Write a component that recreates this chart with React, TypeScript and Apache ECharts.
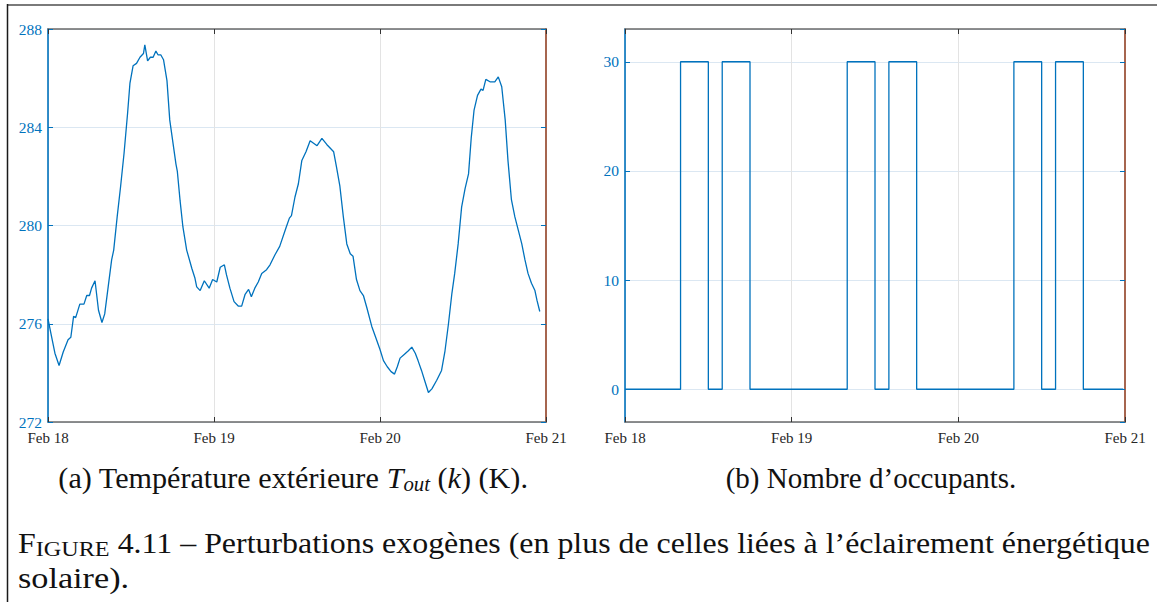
import React, { useEffect, useRef } from 'react';
import * as echarts from 'echarts';

const dayLabels = ['Feb 18', 'Feb 19', 'Feb 20', 'Feb 21'];

// Outdoor temperature (K), hours since Feb 18 00:00
const tempHours = [
  0, 0.5, 1.0, 1.6, 2.2, 2.9, 3.3, 3.7, 4.0, 4.6, 5.2, 5.6, 6.0, 6.3, 6.8, 7.3, 7.8, 8.2, 8.7, 9.2,
  9.5, 10.0, 10.5, 11.0, 11.5, 11.85, 12.3, 12.8, 13.3, 13.8, 14.0, 14.4, 14.8, 15.2, 15.6, 15.9, 16.3, 16.7, 17.2, 17.6,
  18.5, 18.7, 19.1, 19.5, 20.05, 20.8, 21.25, 21.5, 22.0, 22.6, 23.3, 23.8, 24.4, 24.9, 25.5, 25.8, 26.3, 26.9, 27.5, 28.0,
  28.5, 29.0, 29.4, 29.9, 30.4, 30.9, 31.6, 32.1, 32.8, 33.5, 34.4, 34.9, 35.2, 35.7, 36.2, 36.7, 37.3, 37.9, 38.4, 38.9,
  39.6, 40.3, 41.3, 41.7, 42.2, 42.7, 43.2, 43.7, 44.1, 44.6, 45.1, 45.6, 46.1, 46.8, 47.5, 48.0, 48.5, 49.05, 49.6, 50.1,
  50.5, 50.9, 51.5, 52.1, 52.6, 53.1, 53.5, 54.0, 54.5, 55.0, 55.5, 56.2, 56.9, 57.4, 57.9, 58.4, 58.8, 59.3, 59.8, 60.3,
  60.8, 61.2, 61.6, 62.1, 62.6, 62.9, 63.3, 63.9, 64.6, 65.1, 65.6, 66.1, 66.5, 67.0, 67.5, 68.0, 68.5, 68.96, 69.4, 69.9,
  70.4, 70.7, 71.1
];
const tempValues = [
  276.2, 275.5, 274.8, 274.3, 274.85, 275.35, 275.45, 276.3, 276.25, 276.8, 276.8, 277.15, 277.15, 277.45, 277.75, 276.55, 276.05, 276.4, 277.5, 278.6,
  279.0, 280.35, 281.6, 282.95, 284.55, 285.8, 286.5, 286.6, 286.85, 287.0, 287.35, 286.7, 286.85, 286.85, 287.1, 286.95, 286.95, 286.75, 285.9, 284.3,
  282.5, 282.2, 281.0, 279.95, 279.0, 278.25, 277.85, 277.5, 277.35, 277.75, 277.45, 277.8, 277.7, 278.3, 278.4, 278.0, 277.45, 276.9, 276.72, 276.72,
  277.2, 277.4, 277.1, 277.45, 277.7, 278.05, 278.2, 278.4, 278.8, 279.15, 279.9, 280.3, 280.4, 281.15, 281.7, 282.65, 283.0, 283.45, 283.35, 283.25,
  283.55, 283.3, 283.0, 282.4, 281.6, 280.35, 279.25, 278.85, 278.75, 277.8, 277.35, 277.15, 276.65, 275.9, 275.35, 274.95, 274.5, 274.25, 274.05, 273.95,
  274.25, 274.6, 274.75, 274.9, 275.05, 274.8, 274.5, 274.1, 273.65, 273.2, 273.35, 273.7, 274.1, 274.9, 276.0, 277.25, 278.05, 279.25, 280.75, 281.5,
  282.1, 283.6, 284.7, 285.3, 285.55, 285.5, 285.95, 285.85, 285.85, 286.05, 285.65, 284.3, 282.65, 281.05, 280.35, 279.8, 279.25, 278.6, 278.05, 277.65,
  277.35, 276.95, 276.5
];

// Number of occupants, change instants (hours since Feb 18 00:00)
const occHours = [0, 8, 12, 14, 18, 32, 36, 38, 42, 56, 60, 62, 66, 71.75];
const occValues = [0, 30, 0, 30, 0, 30, 0, 30, 0, 30, 0, 30, 0, 0];

const BLUE = '#0072BD';
const AXIS_DARK = '#6a6a6a';
const RIGHT_BROWN = '#a6654f';
const TICK_FONT = '"Liberation Serif", serif';
const CAP_FONT = '"Liberation Serif", serif';

function xAxes(gridIndex: number) {
  return [
    {
      gridIndex, type: 'value', min: 0, max: 72, interval: 24, position: 'bottom',
      axisLine: { show: true, onZero: false, lineStyle: { color: AXIS_DARK, width: 1.6 } },
      axisTick: { show: true, inside: true, length: 5, lineStyle: { color: '#333', width: 1 } },
      axisLabel: {
        color: '#262626', fontFamily: TICK_FONT, fontSize: 15, margin: 8,
        formatter: (v: number) => dayLabels[Math.round(v / 24)] ?? '',
      },
      splitLine: { show: true, lineStyle: { color: '#e3e3e3', width: 1 } },
    },
    {
      gridIndex, type: 'value', min: 0, max: 72, interval: 24, position: 'top',
      axisLine: { show: true, onZero: false, lineStyle: { color: AXIS_DARK, width: 1.6 } },
      axisTick: { show: true, inside: true, length: 5, lineStyle: { color: '#333', width: 1 } },
      axisLabel: { show: false },
      splitLine: { show: false },
    },
  ];
}

function yAxes(gridIndex: number, min: number, max: number, interval?: number) {
  const base: any = { gridIndex, type: 'value', min, max };
  if (interval) base.interval = interval;
  return [
    {
      ...base, position: 'left',
      axisLine: { show: true, onZero: false, lineStyle: { color: BLUE, width: 1.6 } },
      axisTick: { show: true, inside: true, length: 5, lineStyle: { color: BLUE, width: 1 } },
      axisLabel: {
        color: BLUE, fontFamily: TICK_FONT, fontSize: 15.5, margin: 6,
        showMinLabel: interval ? true : false, showMaxLabel: interval ? true : false,
      },
      splitLine: { show: true, lineStyle: { color: '#dbe7f2', width: 1 } },
    },
    {
      ...base, position: 'right',
      axisLine: { show: true, onZero: false, lineStyle: { color: RIGHT_BROWN, width: 2 } },
      axisTick: { show: true, inside: true, length: 5, lineStyle: { color: BLUE, width: 1 } },
      axisLabel: { show: false },
      splitLine: { show: false },
    },
  ];
}

export default function App() {
  const ref = useRef<HTMLDivElement>(null);

  useEffect(() => {
    if (!ref.current) return;
    const chart = echarts.init(ref.current, undefined, { renderer: 'svg' });

    const tempData = tempHours.map((h, i) => [h, tempValues[i]]);
    const occData = occHours.map((h, i) => [h, occValues[i]]);

    chart.setOption({
      animation: false,
      backgroundColor: '#ffffff',
      grid: [
        { left: 48, top: 29, width: 498, height: 393 },
        { left: 625, top: 29, width: 500, height: 393 },
      ],
      xAxis: [...xAxes(0), ...xAxes(1)],
      yAxis: [...yAxes(0, 272, 288, 4), ...yAxes(1, -3, 33)],
      series: [
        {
          type: 'line', xAxisIndex: 0, yAxisIndex: 0, data: tempData,
          showSymbol: false, smooth: false,
          lineStyle: { color: BLUE, width: 1.3 }, itemStyle: { color: BLUE },
        },
        {
          type: 'line', xAxisIndex: 2, yAxisIndex: 2, data: occData,
          step: 'end', showSymbol: false,
          lineStyle: { color: BLUE, width: 1.3 }, itemStyle: { color: BLUE },
        },
      ],
      graphic: [
        { type: 'line', shape: { x1: 7, y1: 5, x2: 1157, y2: 5 }, style: { stroke: '#7a7a7a', lineWidth: 2 } },
        { type: 'line', shape: { x1: 7.5, y1: 4, x2: 7.5, y2: 602 }, style: { stroke: '#1a1a1a', lineWidth: 1.5 } },
        {
          type: 'text', x: 293, y: 478, scaleX: 1.04, originX: 0, originY: 0,
          style: {
            text: '(a) Température extérieure {it|T}{sub|out} ({it|k}) (K).',
            fontFamily: CAP_FONT, fontSize: 29, fill: '#111', align: 'center', verticalAlign: 'middle',
            lineHeight: 32,
            rich: {
              it: { fontFamily: CAP_FONT, fontSize: 29, fontStyle: 'italic', fill: '#111', lineHeight: 32 },
              sub: { fontFamily: CAP_FONT, fontSize: 20, fontStyle: 'italic', fill: '#111', lineHeight: 15, verticalAlign: 'bottom' },
            },
          },
        },
        {
          type: 'text', x: 871, y: 478,
          style: {
            text: '(b) Nombre d\u2019occupants.',
            fontFamily: CAP_FONT, fontSize: 29, fill: '#111', align: 'center', verticalAlign: 'middle',
          },
        },
        {
          type: 'text', x: 18, y: 543, scaleX: 1.1,
          style: {
            text: '{big|F}{small|IGURE} 4.11 \u2013 Perturbations exogènes (en plus de celles liées à l\u2019éclairement énergétique',
            fontFamily: CAP_FONT, fontSize: 29, fill: '#111', align: 'left', verticalAlign: 'middle', lineHeight: 32,
            rich: {
              big: { fontFamily: CAP_FONT, fontSize: 29, fill: '#111', lineHeight: 32 },
              small: { fontFamily: CAP_FONT, fontSize: 22, fill: '#111', lineHeight: 25, verticalAlign: 'bottom' },
            },
          },
        },
        {
          type: 'text', x: 18, y: 578, scaleX: 1.18,
          style: {
            text: 'solaire).',
            fontFamily: CAP_FONT, fontSize: 29, fill: '#111', align: 'left', verticalAlign: 'middle',
          },
        },
      ],
    });

    return () => chart.dispose();
  }, []);

  return (
    <div
      ref={ref}
      style={{ position: 'fixed', left: 0, top: 0, width: 1157, height: 602, background: '#fff' }}
    />
  );
}
